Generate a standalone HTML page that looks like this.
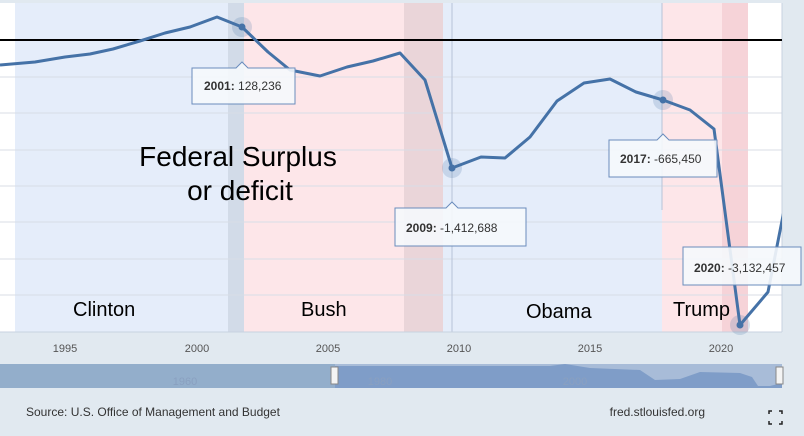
<!DOCTYPE html>
<html><head><style>
body{margin:0;width:804px;height:431px;background:#e1e9f0;overflow:hidden;font-family:"Liberation Sans",sans-serif}
</style></head><body>
<svg width="804" height="431" xmlns="http://www.w3.org/2000/svg" font-family="Liberation Sans, sans-serif">
<defs><clipPath id="c"><rect x="0" y="3" width="782" height="340"/></clipPath></defs>
<rect x="0" y="0" width="804" height="431" fill="#e1e9f0"/>
<rect x="0" y="3" width="782" height="329" fill="#fff"/>
<rect x="15" y="3" width="213" height="329" fill="#e5edfa"/>
<rect x="228" y="3" width="16" height="329" fill="#d2dbe8"/>
<rect x="244" y="3" width="160" height="329" fill="#fde6e9"/>
<rect x="404" y="3" width="39" height="329" fill="#ead5d9"/>
<rect x="443" y="3" width="219" height="329" fill="#e5edfa"/>
<rect x="662" y="3" width="60" height="329" fill="#fde6e9"/>
<rect x="722" y="3" width="26" height="329" fill="#f6d3d8"/>
<g stroke="#d8dde6" stroke-width="1">
<line x1="0" y1="77" x2="782" y2="77"/><line x1="0" y1="113" x2="782" y2="113"/><line x1="0" y1="150" x2="782" y2="150"/><line x1="0" y1="186" x2="782" y2="186"/><line x1="0" y1="222" x2="782" y2="222"/><line x1="0" y1="259" x2="782" y2="259"/><line x1="0" y1="295" x2="782" y2="295"/>
</g>
<line x1="452" y1="3" x2="452" y2="332" stroke="#b8c4d8"/>
<line x1="662" y1="3" x2="662" y2="210" stroke="#b8c4d8"/>
<line x1="782" y1="3" x2="782" y2="332" stroke="#c8d2e0"/>
<line x1="0" y1="332" x2="782" y2="332" stroke="#c8d2e0"/>
<line x1="0" y1="40" x2="782" y2="40" stroke="#000" stroke-width="2"/>
<polyline clip-path="url(#c)" fill="none" stroke="#4572a7" stroke-width="3" stroke-linejoin="round" points="0,65 35,62 65,57 90,54 113,49 140,41 165,33 190,27 217,17 242,27 268,52 290,70 320,76 347,67 373,61 400,53 425,80 452,168 481,157 505,158 530,137 557,101 584,83 610,79 636,92 663,100 690,110 714,129 740,325 768,292 790,180"/>
<g fill="#4572a7">
<circle cx="242" cy="27" r="10" fill-opacity="0.2"/><circle cx="242" cy="27" r="3.5"/>
<circle cx="452" cy="168" r="10" fill-opacity="0.2"/><circle cx="452" cy="168" r="3.5"/>
<circle cx="663" cy="100" r="10" fill-opacity="0.2"/><circle cx="663" cy="100" r="3.5"/>
<circle cx="740" cy="325" r="10" fill-opacity="0.2"/><circle cx="740" cy="325" r="3.5"/>
</g>
<g font-size="12" fill="#333">
<path d="M192,68 H236 L242,62 L248,68 H295 V104 H192 Z" fill="#f5f8fc" stroke="#6a8cbc" fill-opacity="0.9"/>
<text x="204" y="90"><tspan font-weight="bold">2001:</tspan> 128,236</text>
<path d="M395,208 H446 L452,202 L458,208 H526 V246 H395 Z" fill="#f5f8fc" stroke="#6a8cbc" fill-opacity="0.9"/>
<text x="406" y="232"><tspan font-weight="bold">2009:</tspan> -1,412,688</text>
<path d="M609,140 H657 L663,134 L669,140 H717 V177 H609 Z" fill="#f5f8fc" stroke="#6a8cbc" fill-opacity="0.9"/>
<text x="620" y="163"><tspan font-weight="bold">2017:</tspan> -665,450</text>
<rect x="683" y="247" width="118" height="38" fill="#f5f8fc" stroke="#6a8cbc" fill-opacity="0.9"/>
<text x="694" y="272"><tspan font-weight="bold">2020:</tspan> -3,132,457</text>
</g>
<text x="238" y="166" font-size="28" text-anchor="middle">Federal Surplus</text>
<text x="240" y="200" font-size="28" text-anchor="middle">or deficit</text>
<g font-size="20" fill="#000">
<text x="73" y="316">Clinton</text><text x="301" y="316">Bush</text><text x="526" y="318">Obama</text><text x="673" y="316">Trump</text>
</g>
<g font-size="11" fill="#555" text-anchor="middle">
<text x="65" y="352">1995</text><text x="197" y="352">2000</text><text x="328" y="352">2005</text><text x="459" y="352">2010</text><text x="590" y="352">2015</text><text x="721" y="352">2020</text>
</g>
<rect x="0" y="364" width="335" height="24" fill="#93aecb"/>
<rect x="335" y="364" width="447" height="24" fill="#a8bcd8"/>
<path d="M0,367 L335,366 L335,388 L0,388 Z" fill="#93aecb"/>
<path d="M335,366 L550,366 L565,364 L590,368 L640,370 L655,380 L680,379 L700,372 L740,373 L752,377 L758,386 L770,386 L782,383 L782,388 L335,388 Z" fill="#7f9dc8"/>
<g font-size="11" fill="#8aa0c0" text-anchor="middle"><text x="185" y="385">1960</text><text x="380" y="385">1980</text><text x="575" y="385">2000</text></g>
<rect x="331" y="367" width="7" height="17" fill="#f4f4f4" stroke="#888"/>
<rect x="776" y="367" width="7" height="17" fill="#f4f4f4" stroke="#888"/>
<text x="26" y="416" font-size="12" fill="#333">Source: U.S. Office of Management and Budget</text>
<text x="705" y="416" font-size="12" fill="#333" text-anchor="end">fred.stlouisfed.org</text>
<g stroke="#222" stroke-width="1.5" fill="none"><path d="M769,414v-3h3M779,411h3v3M782,421v3h-3M772,424h-3v-3"/></g>
</svg>
</body></html>
